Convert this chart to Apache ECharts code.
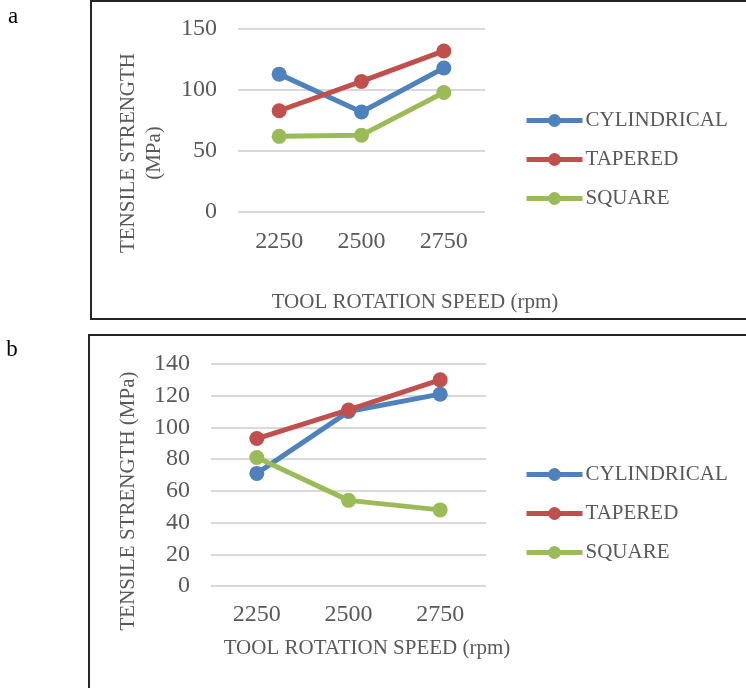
<!DOCTYPE html>
<html>
<head>
<meta charset="utf-8">
<script src="https://cdn.jsdelivr.net/npm/echarts@6/dist/echarts.min.js"></script>
<style>
  html, body { margin: 0; padding: 0; background: #fff; }
  #chart { width: 746px; height: 688px; }
</style>
</head>
<body>
<div id="chart"></div>
<script>
// rotation speeds (rpm)
const speeds = ['2250', '2500', '2750']
const seriesNames = ['CYLINDRICAL', 'TAPERED', 'SQUARE']
const colors = ['#4F81BD', '#C0504D', '#9BBB59']

// panel a
const cylindricalA = [113, 82, 118]
const taperedA = [83, 107, 132]
const squareA = [62, 63, 98]

// panel b
const cylindricalB = [71, 110, 121]
const taperedB = [93, 111, 130]
const squareB = [81, 54, 48]

const FONT = '"Liberation Serif", "Times New Roman", serif'
const GREY = '#595959'

const chart = echarts.init(document.getElementById('chart'))

const lineSeries = (name, data, idx, color) => ({
  name,
  type: 'line',
  xAxisIndex: idx,
  yAxisIndex: idx,
  data,
  symbol: 'circle',
  symbolSize: 15,
  color,
  lineStyle: { width: 5, color },
  itemStyle: { color },
  emphasis: { disabled: true },
})

const xAxisBase = (gridIndex, margin) => ({
  type: 'category',
  gridIndex,
  data: speeds,
  boundaryGap: true,
  axisLine: { show: false },
  axisTick: { show: false },
  axisLabel: { color: GREY, fontSize: 24, fontFamily: FONT, margin },
})

const yAxisBase = (gridIndex, max, interval) => ({
  type: 'value',
  gridIndex,
  min: 0,
  max,
  interval,
  axisLine: { show: false },
  axisTick: { show: false },
  axisLabel: { color: GREY, fontSize: 24, fontFamily: FONT, margin: 21 },
  splitLine: { lineStyle: { color: '#D9D9D9', width: 2 } },
})

const legendBase = (top) => ({
  orient: 'vertical',
  left: 524,
  top,
  padding: 0,
  itemWidth: 56,
  itemHeight: 16,
  itemGap: 18,
  lineStyle: { width: 5 },
  textStyle: { color: GREY, fontSize: 21, fontFamily: FONT, padding: [0, 0, 0, -2] },
  data: seriesNames,
})

const titleText = (text, x, y, rotate) => ({
  type: 'text',
  x,
  y,
  rotation: rotate ? Math.PI / 2 : 0,
  style: {
    text,
    fill: GREY,
    font: '21px ' + FONT,
    align: 'center',
    verticalAlign: 'middle',
    lineHeight: 26,
  },
})

const option = {
  animation: false,
  grid: [
    { left: 238, right: 261, top: 29, bottom: 476 },
    { left: 211, right: 260, top: 364, bottom: 102 },
  ],
  xAxis: [xAxisBase(0, 18), xAxisBase(1, 17)],
  yAxis: [yAxisBase(0, 150, 50), yAxisBase(1, 140, 20)],
  legend: [legendBase(110), legendBase(464)],
  series: [
    lineSeries(seriesNames[0], cylindricalA, 0, colors[0]),
    lineSeries(seriesNames[1], taperedA, 0, colors[1]),
    lineSeries(seriesNames[2], squareA, 0, colors[2]),
    lineSeries(seriesNames[0], cylindricalB, 1, colors[0]),
    lineSeries(seriesNames[1], taperedB, 1, colors[1]),
    lineSeries(seriesNames[2], squareB, 1, colors[2]),
  ],
  graphic: [
    // panel frames
    { type: 'rect', shape: { x: 91, y: 1, width: 700, height: 318 }, style: { fill: 'none', stroke: '#262626', lineWidth: 2 } },
    { type: 'rect', shape: { x: 89, y: 335, width: 700, height: 400 }, style: { fill: 'none', stroke: '#262626', lineWidth: 2 } },
    // panel letters
    { type: 'text', x: 13, y: 17, style: { text: 'a', fill: '#000', font: '23px ' + FONT, align: 'center', verticalAlign: 'middle' } },
    { type: 'text', x: 12, y: 350, style: { text: 'b', fill: '#000', font: '23px ' + FONT, align: 'center', verticalAlign: 'middle' } },
    // axis titles
    titleText('TENSILE STRENGTH\n(MPa)', 141, 153, true),
    titleText('TOOL ROTATION SPEED (rpm)', 415, 302, false),
    titleText('TENSILE STRENGTH (MPa)', 128, 501, true),
    titleText('TOOL ROTATION SPEED (rpm)', 367, 648, false),
  ],
}

chart.setOption(option)
</script>
</body>
</html>
